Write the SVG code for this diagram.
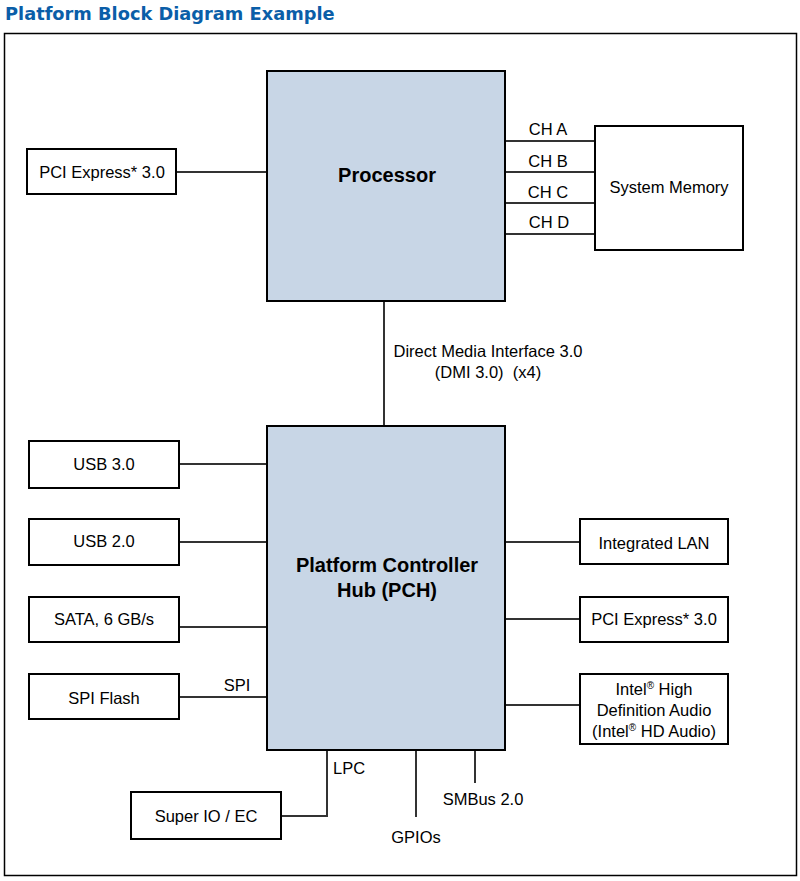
<svg xmlns="http://www.w3.org/2000/svg" width="800" height="881" viewBox="0 0 800 881">
<style>
.bg{fill:#ffffff}
.frame{fill:none;stroke:#000;stroke-width:1.5}
.box{fill:#fff;stroke:#000;stroke-width:2}
.chip{fill:#c8d6e6;stroke:#000;stroke-width:2}
.wire{fill:none;stroke:#333;stroke-width:2}
.t{font-family:"Liberation Sans",Arial,sans-serif;font-size:16.5px;fill:#000;text-anchor:middle}
.tl{font-family:"Liberation Sans",Arial,sans-serif;font-size:16.5px;fill:#000}
.b{font-family:"Liberation Sans",Arial,sans-serif;font-size:20px;font-weight:bold;fill:#000;text-anchor:middle}
.title{font-family:"DejaVu Sans",Verdana,sans-serif;font-size:17.8px;font-weight:bold;fill:#0a5ea8}
.sup{font-size:10px}
</style>
<rect class="bg" x="0" y="0" width="800" height="881"/>
<text class="title" x="5" y="20">Platform Block Diagram Example</text>
<rect class="frame" x="4.5" y="33.5" width="792" height="842"/>

<g id="connectors">
<line class="wire" x1="176" y1="172" x2="267" y2="172"/>
<line class="wire" x1="505" y1="141" x2="595" y2="141"/>
<line class="wire" x1="505" y1="172" x2="595" y2="172"/>
<line class="wire" x1="505" y1="203" x2="595" y2="203"/>
<line class="wire" x1="505" y1="234" x2="595" y2="234"/>
<line class="wire" x1="384" y1="301" x2="384" y2="426"/>
<line class="wire" x1="179" y1="464" x2="267" y2="464"/>
<line class="wire" x1="179" y1="542" x2="267" y2="542"/>
<line class="wire" x1="179" y1="627" x2="267" y2="627"/>
<line class="wire" x1="179" y1="697" x2="267" y2="697"/>
<line class="wire" x1="505" y1="542" x2="580" y2="542"/>
<line class="wire" x1="505" y1="619" x2="580" y2="619"/>
<line class="wire" x1="505" y1="705" x2="580" y2="705"/>
<polyline class="wire" points="327,751 327,816 281,816"/>
<line class="wire" x1="416" y1="751" x2="416" y2="817"/>
<line class="wire" x1="475" y1="751" x2="475" y2="783"/>
<text class="t" x="548" y="135">CH A</text>
<text class="t" x="548" y="167">CH B</text>
<text class="t" x="548" y="198">CH C</text>
<text class="t" x="549" y="228">CH D</text>
<text class="t" x="488" y="357">Direct Media Interface 3.0</text>
<text class="t" x="488" y="378" xml:space="preserve">(DMI 3.0)  (x4)</text>
<text class="t" x="237" y="691">SPI</text>
<text class="tl" x="333" y="774">LPC</text>
<text class="t" x="416" y="843">GPIOs</text>
<text class="t" x="483" y="805">SMBus 2.0</text>
</g>

<g id="processor">
<rect class="chip" x="267" y="71" width="238" height="230"/>
<text class="b" x="387" y="182">Processor</text>
</g>
<g id="pcie-cpu">
<rect class="box" x="27" y="149" width="149" height="45"/>
<text class="t" x="102" y="178">PCI Express* 3.0</text>
</g>
<g id="memory">
<rect class="box" x="595" y="126" width="148" height="124"/>
<text class="t" x="669" y="193">System Memory</text>
</g>
<g id="pch">
<rect class="chip" x="267" y="426" width="238" height="324"/>
<text class="b" x="387" y="572">Platform Controller</text>
<text class="b" x="387" y="597">Hub (PCH)</text>
</g>
<g id="usb3">
<rect class="box" x="29" y="441" width="150" height="47"/>
<text class="t" x="104" y="470">USB 3.0</text>
</g>
<g id="usb2">
<rect class="box" x="29" y="519" width="150" height="46"/>
<text class="t" x="104" y="547">USB 2.0</text>
</g>
<g id="sata">
<rect class="box" x="29" y="597" width="150" height="45"/>
<text class="t" x="104" y="625">SATA, 6 GB/s</text>
</g>
<g id="spiflash">
<rect class="box" x="29" y="674" width="150" height="45"/>
<text class="t" x="104" y="704">SPI Flash</text>
</g>
<g id="lan">
<rect class="box" x="580" y="519" width="148" height="45"/>
<text class="t" x="654" y="549">Integrated LAN</text>
</g>
<g id="pcie-pch">
<rect class="box" x="580" y="597" width="148" height="45"/>
<text class="t" x="654" y="625">PCI Express* 3.0</text>
</g>
<g id="hda">
<rect class="box" x="580" y="674" width="148" height="70"/>
<text class="t" x="654" y="695">Intel<tspan class="sup" dy="-6">®</tspan><tspan dy="6"> High</tspan></text>
<text class="t" x="654" y="716">Definition Audio</text>
<text class="t" x="654" y="737">(Intel<tspan class="sup" dy="-6">®</tspan><tspan dy="6"> HD Audio)</tspan></text>
</g>
<g id="superio">
<rect class="box" x="131" y="792" width="150" height="47"/>
<text class="t" x="206" y="822">Super IO / EC</text>
</g>
</svg>
